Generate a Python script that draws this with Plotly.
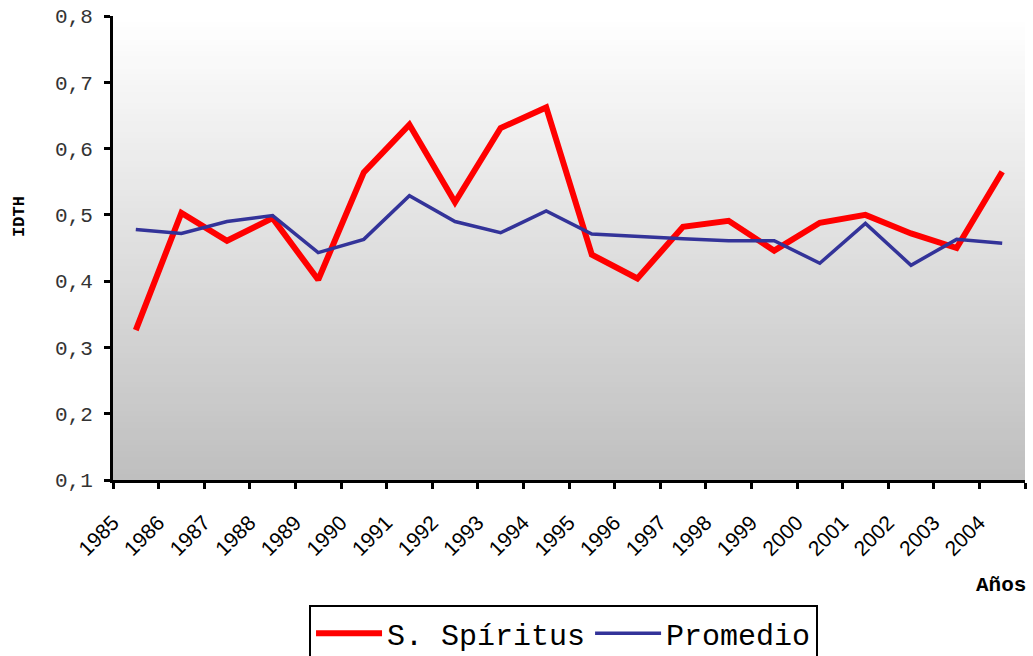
import plotly.graph_objects as go

years = ["1985", "1986", "1987", "1988", "1989", "1990", "1991", "1992", "1993", "1994",
         "1995", "1996", "1997", "1998", "1999", "2000", "2001", "2002", "2003", "2004"]
spiritus = [0.326, 0.503, 0.461, 0.495, 0.402, 0.564, 0.636, 0.519, 0.631, 0.662,
            0.440, 0.404, 0.482, 0.491, 0.446, 0.488, 0.500, 0.472, 0.450, 0.565]
promedio = [0.478, 0.472, 0.490, 0.499, 0.443, 0.463, 0.529, 0.490, 0.473, 0.506,
            0.471, 0.467, 0.464, 0.461, 0.461, 0.427, 0.487, 0.424, 0.463, 0.457]
y_ticks = [0.1, 0.2, 0.3, 0.4, 0.5, 0.6, 0.7, 0.8]

mono = "Liberation Mono, Courier New, monospace"
sans = "Liberation Sans, Arial, sans-serif"

fig = go.Figure()
fig.add_trace(go.Scatter(x=years, y=spiritus, mode="lines", name="S. Spíritus",
                         line=dict(color="#ff0000", width=6)))
fig.add_trace(go.Scatter(x=years, y=promedio, mode="lines", name="Promedio",
                         line=dict(color="#333399", width=3.5)))

# vertical gradient background (white at top to grey at bottom)
n = 80
shapes = []
for i in range(n):
    t = i / (n - 1)
    v = int(round(255 - (255 - 191) * (1 - t)))
    shapes.append(dict(type="rect", xref="x domain", yref="y domain",
                       x0=0, x1=1, y0=i / n, y1=(i + 1) / n + 0.002,
                       fillcolor=f"rgb({v},{v},{v})", line=dict(width=0),
                       layer="below"))

fig.update_layout(
    width=1033, height=656,
    margin=dict(l=113, r=8, t=16, b=176, autoexpand=False),
    paper_bgcolor="white",
    plot_bgcolor="white",
    separators=",.",
    shapes=shapes,
    showlegend=True,
    legend=dict(orientation="h", x=0.494, xanchor="center", y=-0.27, yanchor="top",
                bordercolor="black", borderwidth=2, bgcolor="white",
                font=dict(family=mono, size=30, color="black"),
                itemwidth=66, tracegroupgap=0),
    xaxis=dict(type="category", tickson="boundaries", ticks="outside", ticklen=6,
               tickwidth=3, tickcolor="black", showline=True, linecolor="black",
               linewidth=3, showgrid=False, tickangle=-45, automargin=False,
               tickfont=dict(family=sans, size=21, color="black"),
               ticklabelshift=-23, ticklabelstandoff=19,
               range=[-0.5, 19.5], zeroline=False),
    yaxis=dict(range=[0.1, 0.8], tickvals=y_ticks, tickformat=".1f", ticks="outside",
               ticklen=6, tickwidth=3, tickcolor="black", showline=True,
               linecolor="black", linewidth=3, showgrid=False, zeroline=False,
               automargin=False,
               tickfont=dict(family=mono, size=21, color="#333333"),
               ticklabelstandoff=7),
    annotations=[
        dict(text="<b>IDTH</b>", xref="paper", yref="paper", x=-0.102, y=0.569,
             xanchor="center", yanchor="middle", textangle=-90, showarrow=False,
             font=dict(family=mono, size=17, color="black")),
        dict(text="<b>Años</b>", xref="paper", yref="paper", x=1.003, y=-0.228,
             xanchor="right", yanchor="middle", showarrow=False,
             font=dict(family=mono, size=21, color="black")),
    ],
)

fig.write_html("out.html", config={"displayModeBar": False},
               post_script="document.body.style.margin='0';document.body.style.overflow='hidden';")
